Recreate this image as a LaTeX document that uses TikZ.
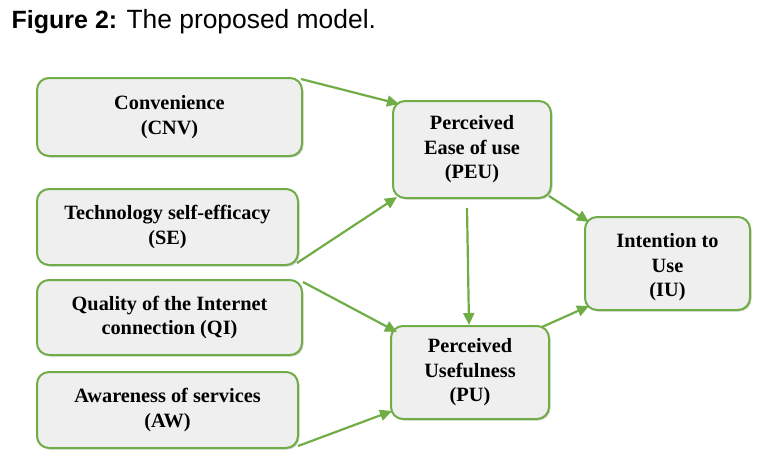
\documentclass[tikz,border=0pt]{standalone}
\usepackage{fontspec}
\setmainfont{Liberation Serif}
\newfontfamily\titlefont{Liberation Sans}
\usetikzlibrary{arrows.meta,shadows}
\definecolor{boxgreen}{HTML}{70AD47}
\definecolor{boxfill}{HTML}{EFEFEF}
\tikzset{
  model/.style={draw=boxgreen, line width=2pt, fill=boxfill, rounded corners=12pt,
    align=center, font=\bfseries\fontsize{20.3}{24.5}\selectfont, inner sep=0pt,
    drop shadow={shadow xshift=1.5pt, shadow yshift=-1.5pt, opacity=0.35, fill=gray}},
  link/.style={draw=boxgreen, line width=2.2pt, -{Triangle[length=12pt,width=11pt]}},
}
\begin{document}
\begin{tikzpicture}[x=1pt,y=-1pt]
\useasboundingbox (0,0) rectangle (771,464);
\node[anchor=base west, inner sep=0pt, font=\titlefont\fontsize{25}{30}\selectfont] (title) at (11.5,28.5) {\textbf{Figure 2:} {\fontsize{26.4}{30}\selectfont The proposed model.}};
\node[model, minimum width=265pt, minimum height=78pt] (CNV) at (169.5,117) {Convenience\\(CNV)};
\node[model, minimum width=261pt, minimum height=76pt] (SE) at (167.5,227) {Technology self-efficacy\\(SE)};
\node[model, minimum width=265pt, minimum height=75pt] (QI) at (169.5,317.5) {Quality of the Internet\\connection (QI)};
\node[model, minimum width=261pt, minimum height=76pt] (AW) at (167.5,410) {Awareness of services\\(AW)};
\node[model, minimum width=158pt, minimum height=97pt] (PEU) at (472,149.5) {Perceived\\Ease of use\\(PEU)};
\node[model, minimum width=158pt, minimum height=93pt] (PU) at (470,372.5) {Perceived\\Usefulness\\(PU)};
\node[model, minimum width=165pt, minimum height=93pt] (IU) at (667.5,263.5) {\rule{0pt}{22pt}Intention to\\Use\\(IU)};
\draw[link] ([shift={(-2pt,-2pt)}]CNV.north east) -- ([shift={(7pt,-4pt)}]PEU.north west);
\draw[link] ([shift={(-2pt,3pt)}]SE.south east) -- ([shift={(5pt,2pt)}]PEU.south west);
\draw[link] ([shift={(0pt,-3pt)}]QI.north east) -- ([shift={(7pt,-7pt)}]PU.north west);
\draw[link] ([shift={(-1pt,3pt)}]AW.south east) -- ([shift={(2pt,9pt)}]PU.south west);
\draw[link] ([shift={(-5pt,-9pt)}]PEU.south) -- ([shift={(-1pt,0pt)}]PU.north);
\draw[link] ([shift={(-3pt,3pt)}]PEU.south east) -- ([shift={(5pt,-6pt)}]IU.north west);
\draw[link] ([shift={(-8pt,-2pt)}]PU.north east) -- ([shift={(5pt,5pt)}]IU.south west);
\end{tikzpicture}
\end{document}
